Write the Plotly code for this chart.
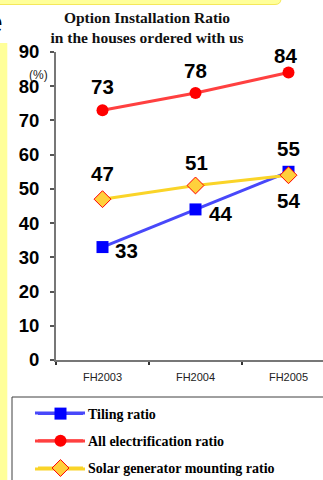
import plotly.graph_objects as go

# ---- data ----
categories = ["FH2003", "FH2004", "FH2005"]
tiling = [33, 44, 55]
electrification = [73, 78, 84]
solar = [47, 51, 54]
series_names = ["Tiling ratio", "All electrification ratio", "Solar generator mounting ratio"]
y_ticks = [0, 10, 20, 30, 40, 50, 60, 70, 80, 90]

# ---- geometry helpers (pixels -> paper) ----
W, H = 323, 480
ML, MT, MB = 56, 52, 120
PW, PH = W - ML, H - MT - MB

def xp(px):
    return (px - ML) / PW

def yp(py):
    return (H - MB - py) / PH

BLUE_LINE = "rgb(72,72,250)"
RED_LINE = "rgb(255,64,64)"
YEL_LINE = "rgb(250,212,40)"

fig = go.Figure()
fig.add_trace(go.Scatter(
    x=categories, y=tiling, name=series_names[0], mode="lines+markers",
    line=dict(color=BLUE_LINE, width=3),
    marker=dict(symbol="square", size=12, color="rgb(0,0,255)"),
    legendgroup="a", cliponaxis=False))
fig.add_trace(go.Scatter(
    x=categories, y=electrification, name=series_names[1], mode="lines+markers",
    line=dict(color=RED_LINE, width=3),
    marker=dict(symbol="circle", size=12, color="rgb(255,0,0)"),
    legendgroup="b", cliponaxis=False))
fig.add_trace(go.Scatter(
    x=categories, y=solar, name=series_names[2], mode="lines+markers",
    line=dict(color=YEL_LINE, width=3),
    marker=dict(symbol="diamond", size=13, color="rgb(255,208,60)",
                line=dict(color="rgb(255,0,0)", width=1)),
    legendgroup="c", cliponaxis=False))

# data labels: (series values, per-point pixel offsets dx, dy)
label_font = dict(family="Liberation Sans, Arial", size=20.5, color="black", weight="bold")
placements = [
    (tiling, [(24, 3), (25, 4), (0, -23)]),
    (electrification, [(0, -24), (0, -23), (-3, -17)]),
    (solar, [(0, -26), (1, -23), (0, 25)]),
]
annotations = []
for values, offs in placements:
    for cat, v, (dx, dy) in zip(categories, values, offs):
        annotations.append(dict(x=cat, y=v, text=str(v), showarrow=False,
                                xanchor="center", yanchor="middle",
                                xshift=dx, yshift=-dy, font=label_font))

# "(%)" unit
annotations.append(dict(xref="paper", yref="paper", x=xp(38), y=yp(75), text="(%)",
                        xanchor="center", yanchor="middle", showarrow=False,
                        font=dict(family="Liberation Sans Narrow, Liberation Sans, Arial", size=12, color="#222")))
# cropped big "e" at left edge (from surrounding page)
annotations.append(dict(xref="paper", yref="paper", x=xp(5), y=yp(22), xanchor="right",
                        yanchor="middle", text="e", showarrow=False,
                        font=dict(family="Liberation Sans, Arial", size=32, color="black")))

shapes = []
# top yellow banner with rounded right end
r = 6
shapes.append(dict(type="path", xref="paper", yref="paper",
                   path=(f"M {xp(-5)},{yp(-10)} L {xp(281)},{yp(-10)} L {xp(281)},{yp(4.5 - r)} "
                         f"Q {xp(281)},{yp(4.5)} {xp(281 - r)},{yp(4.5)} L {xp(-5)},{yp(4.5)} Z"),
                   fillcolor="#FFFF99", line=dict(color="#F5E85A", width=1), layer="below"))
# left yellow strip
shapes.append(dict(type="rect", xref="paper", yref="paper",
                   x0=xp(-5), x1=xp(7.3), y0=yp(43), y1=yp(490),
                   fillcolor="#FFFF99", line=dict(width=0), layer="below"))
# legend box
shapes.append(dict(type="rect", xref="paper", yref="paper",
                   x0=xp(12), x1=xp(340), y0=yp(397), y1=yp(500),
                   fillcolor="white", line=dict(color="#404040", width=1), layer="below"))
# legend sample lines (extended length)
for py, col in [(413, BLUE_LINE), (441, RED_LINE), (469, YEL_LINE)]:
    shapes.append(dict(type="line", xref="paper", yref="paper",
                       x0=xp(35), x1=xp(85), y0=yp(py), y1=yp(py),
                       line=dict(color=col, width=3), layer="below"))

fig.update_layout(
    width=W, height=H,
    margin=dict(l=ML, r=0, t=MT, b=MB, autoexpand=False),
    paper_bgcolor="white", plot_bgcolor="rgba(0,0,0,0)",
    title=dict(text="Option Installation Ratio<br>in the houses ordered with us",
               x=147 / W, xanchor="center", xref="container",
               y=1 - 22.5 / H, yanchor="middle", yref="container",
               font=dict(family="Liberation Serif, Times New Roman", size=15.5, color="#111", weight="bold")),
    xaxis=dict(type="category", range=[-0.5, (W - ML) / 93 - 0.5],
               showline=True, linecolor="#777", linewidth=2,
               ticks="outside", tickson="boundaries", ticklen=3, tickcolor="#333", tickwidth=1.5,
               tickfont=dict(family="Liberation Sans, Arial", size=11, color="#222"),
               ticklabelstandoff=6, showgrid=False, zeroline=False, fixedrange=True),
    yaxis=dict(range=[0, 90], tickvals=y_ticks, showline=True, linecolor="#777", linewidth=2,
               ticks="outside", ticklen=4, tickcolor="#555", tickwidth=1.5,
               tickfont=dict(family="Liberation Sans, Arial", size=18.5, color="black", weight="bold"),
               ticklabelstandoff=7, showgrid=False, zeroline=False, fixedrange=True),
    showlegend=True,
    legend=dict(x=xp(33), y=yp(398), xanchor="left", yanchor="top",
                bgcolor="rgba(0,0,0,0)", borderwidth=0, itemwidth=45,
                tracegroupgap=6, traceorder="grouped",
                font=dict(family="Liberation Serif, Times New Roman", size=14, color="black", weight="bold")),
    annotations=annotations,
    shapes=shapes,
)

fig.write_html("out.html", config={"displayModeBar": False})
